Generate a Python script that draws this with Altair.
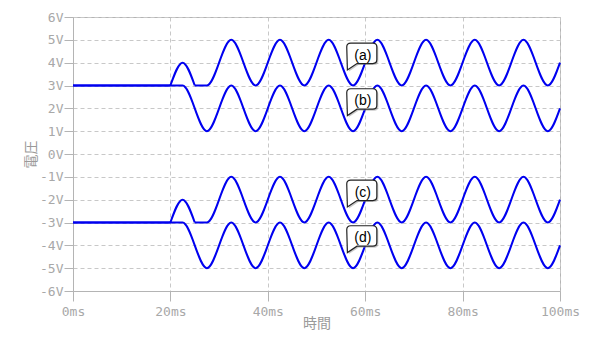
import altair as alt
import pandas as pd

# ---- data (extrema of each trace) ----
# trace (a): clamped wave between 3 V and 5 V
a_time = [0, 20, 20, 22.5, 25, 25, 27.5, 32.5, 37.5, 42.5, 47.5, 52.5, 57.5, 62.5, 67.5, 72.5, 77.5, 82.5, 87.5, 92.5, 97.5, 100]
a_volt = [3, 3, 3, 4, 3, 3, 3, 5, 3, 5, 3, 5, 3, 5, 3, 5, 3, 5, 3, 5, 3, 4]
a_piece = [0, 0, 1, 1, 1, 2, 2, 2, 2, 2, 2, 2, 2, 2, 2, 2, 2, 2, 2, 2, 2, 2]

# trace (b): clamped wave between 1 V and 3 V
b_time = [0, 22.5, 27.5, 32.5, 37.5, 42.5, 47.5, 52.5, 57.5, 62.5, 67.5, 72.5, 77.5, 82.5, 87.5, 92.5, 97.5, 100]
b_volt = [3, 3, 1, 3, 1, 3, 1, 3, 1, 3, 1, 3, 1, 3, 1, 3, 1, 2]

# trace (c): same shape as (a) around -3 V
c_time = a_time
c_volt = [-3, -3, -3, -2, -3, -3, -3, -1, -3, -1, -3, -1, -3, -1, -3, -1, -3, -1, -3, -1, -3, -2]
c_piece = a_piece

# trace (d): same shape as (b) around -3 V
d_time = b_time
d_volt = [-3, -3, -5, -3, -5, -3, -5, -3, -5, -3, -5, -3, -5, -3, -5, -3, -5, -4]

labels = ["(a)", "(b)", "(c)", "(d)"]
label_time = [59.3, 59.3, 59.3, 59.3]
label_volt = [4.27, 2.27, -1.73, -3.73]

x_ticks = [0, 20, 40, 60, 80, 100]
y_ticks = [-6, -5, -4, -3, -2, -1, 0, 1, 2, 3, 4, 5, 6]

rows = []
for name, ts, vs, ps in [("a", a_time, a_volt, a_piece),
                         ("b", b_time, b_volt, [0] * len(b_time)),
                         ("c", c_time, c_volt, c_piece),
                         ("d", d_time, d_volt, [0] * len(d_time))]:
    for t, v, p in zip(ts, vs, ps):
        rows.append({"t": t, "v": v, "key": f"{name}{p}"})
lines_df = pd.DataFrame(rows)
lab_df = pd.DataFrame({"t": label_time, "v": label_volt, "label": labels})

xs = alt.Scale(domain=[0, 100], nice=False, zero=False)
ys = alt.Scale(domain=[-6, 6], nice=False, zero=False)

axis_common = dict(
    labelFlush=False,
    labelFont="DejaVu Sans Mono",
    labelFontSize=13,
    labelColor="#a8a8a8",
    domainColor="#b4b4b4",
    tickColor="#b4b4b4",
    gridColor="#c8c8c8",
    gridDash=[4, 3],
    titleFont="Noto Sans CJK JP",
    titleFontSize=14,
    titleFontWeight="normal",
    titleColor="#9a9a9a",
    labelOverlap=False,
    labelBound=False,
)

x_axis = alt.Axis(values=x_ticks, labelExpr="datum.value + 'ms'", title="時間",
                  tickSize=10, labelPadding=4, titleY=32, titleBaseline="middle",
                  **axis_common)
y_axis = alt.Axis(values=y_ticks, labelExpr="datum.value + 'V'", title="電圧",
                  tickSize=9, labelPadding=1, titleX=-42, titleY=137,
                  titleBaseline="middle", titleAngle=270, **axis_common)

X = alt.X("t:Q", scale=xs, axis=x_axis)
Y = alt.Y("v:Q", scale=ys, axis=y_axis)

lines = alt.Chart(lines_df).mark_line(
    interpolate="monotone", color="#0000f0", strokeWidth=2
).encode(x=X, y=Y, detail="key:N")

bubble_path = ("M -0.94 -0.59 Q -0.94 -0.84 -0.69 -0.84 L 0.69 -0.84 "
               "Q 0.94 -0.84 0.94 -0.59 L 0.94 0.19 Q 0.94 0.44 0.69 0.44 "
               "L -0.3 0.44 L -0.9 0.84 Z")

shadow = alt.Chart(lab_df).mark_point(
    shape=bubble_path, size=1024, filled=True, fill="#888888", opacity=0.45,
    strokeWidth=0, xOffset=1.5, yOffset=1.5
).encode(x=X, y=Y)

bubbles = alt.Chart(lab_df).mark_point(
    shape=bubble_path, size=1024, filled=True, fill="white", opacity=1,
    stroke="#222222", strokeWidth=1.2
).encode(x=X, y=Y)

texts = alt.Chart(lab_df).mark_text(
    font="Liberation Sans", fontSize=14, color="#000000", dx=1, dy=-1,
    baseline="middle", align="center"
).encode(x=X, y=Y, text="label:N")

chart = alt.layer(lines, shadow, bubbles, texts).properties(
    width=487,
    height=274,
    padding={"left": 73, "top": 17, "right": 40, "bottom": 49},
    autosize=alt.AutoSizeParams(type="none"),
    background="white",
).configure_view(stroke="#b4b4b4", strokeWidth=1)

chart.save("out.html", embed_options={"renderer": "svg", "actions": False})
